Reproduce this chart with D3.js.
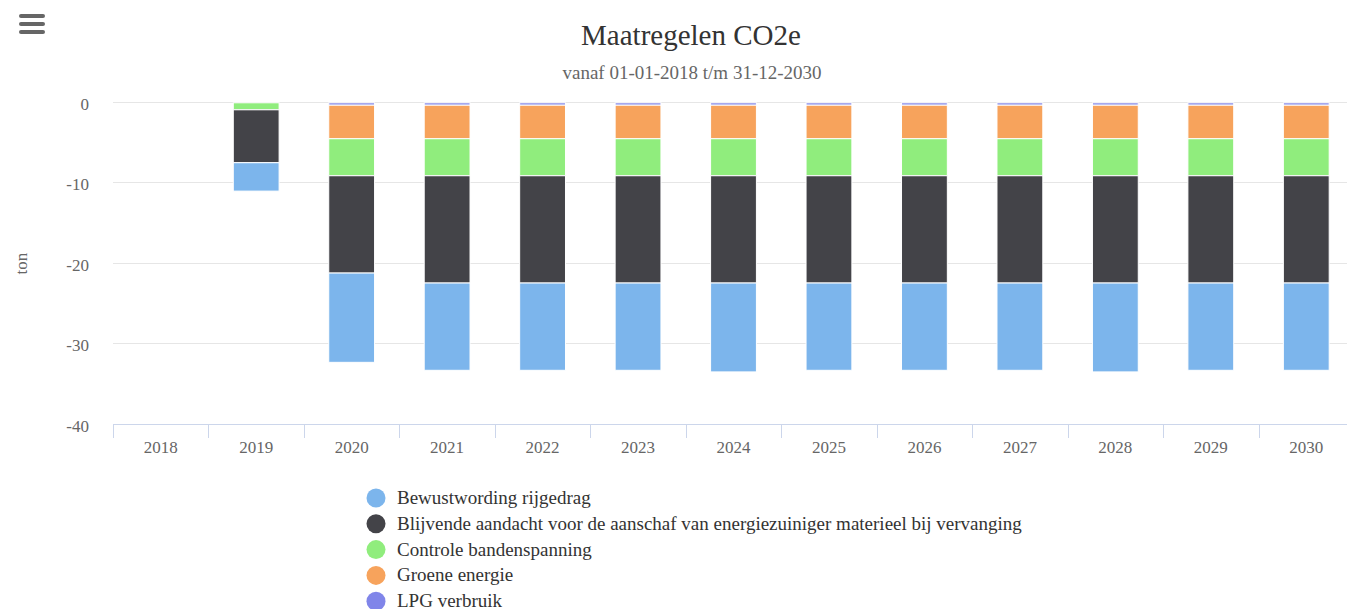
<!DOCTYPE html>
<html>
<head>
<meta charset="utf-8">
<script src="https://cdn.jsdelivr.net/npm/d3@7"></script>
<style>
  body { margin: 0; background: #fff; overflow: hidden; }
  svg { font-family: "Liberation Serif", "Times New Roman", serif; }
</style>
</head>
<body>
<svg id="chart" width="1347" height="609"></svg>
<script>
// data
var years = ["2018","2019","2020","2021","2022","2023","2024","2025","2026","2027","2028","2029","2030"];
var seriesNames = ["Bewustwording rijgedrag",
  "Blijvende aandacht voor de aanschaf van energiezuiniger materieel bij vervanging",
  "Controle bandenspanning", "Groene energie", "LPG verbruik"];
var colors = ["#7cb5ec", "#434348", "#90ed7d", "#f7a35c", "#8085e9"];
var bewustwording = [0, -3.53, -11.1, -10.85, -10.85, -10.85, -11.05, -10.85, -10.85, -10.85, -11.05, -10.85, -10.85];
var blijvende     = [0, -6.58, -12.1, -13.34, -13.34, -13.34, -13.34, -13.34, -13.34, -13.34, -13.34, -13.34, -13.34];
var controle      = [0, -0.87, -4.6, -4.6, -4.6, -4.6, -4.6, -4.6, -4.6, -4.6, -4.6, -4.6, -4.6];
var groene        = [0, 0, -4.17, -4.17, -4.17, -4.17, -4.17, -4.17, -4.17, -4.17, -4.17, -4.17, -4.17];
var lpg           = [0, 0, -0.3, -0.3, -0.3, -0.3, -0.3, -0.3, -0.3, -0.3, -0.3, -0.3, -0.3];
var yTicks = [0, -10, -20, -30, -40];

var allValues = [bewustwording, blijvende, controle, groene, lpg];

var table = years.map(function(yr, i){
  var row = {year: yr};
  seriesNames.forEach(function(n, k){ row[n] = allValues[k][i]; });
  return row;
});

var svg = d3.select("#chart");
var plotLeft = 113, plotRight = 1354, plotTop = 102.8, plotBottom = 424.5;

var x = d3.scaleBand().domain(years).range([plotLeft, plotRight]);
var y = d3.scaleLinear().domain([-40, 0]).range([plotBottom, plotTop]);

// highcharts puts the last series next to zero
var stack = d3.stack().keys(seriesNames.slice().reverse()).offset(d3.stackOffsetDiverging);
var layers = stack(table);

// title
svg.append("text").attr("x", 691).attr("y", 45).attr("text-anchor", "middle")
  .attr("font-size", 29).attr("fill", "#333").text("Maatregelen CO2e");
svg.append("text").attr("x", 692).attr("y", 79).attr("text-anchor", "middle")
  .attr("font-size", 19).attr("fill", "#666").text("vanaf 01-01-2018 t/m 31-12-2030");

// menu icon
[16, 24, 32].forEach(function(yy){
  svg.append("line").attr("x1", 21).attr("x2", 43).attr("y1", yy).attr("y2", yy)
    .attr("stroke", "#666").attr("stroke-width", 4).attr("stroke-linecap", "round");
});

// grid
svg.append("g").selectAll("line").data(yTicks.slice(0, 4)).enter().append("line")
  .attr("x1", plotLeft).attr("x2", plotRight)
  .attr("y1", function(d){ return Math.round(y(d)) - 0.5; }).attr("y2", function(d){ return Math.round(y(d)) - 0.5; })
  .attr("stroke", "#e6e6e6");

svg.append("g").selectAll("text").data(yTicks).enter().append("text")
  .attr("x", 89).attr("y", function(d){ return y(d) + 7; })
  .attr("text-anchor", "end").attr("font-size", 17).attr("fill", "#666")
  .text(function(d){ return d; });

svg.append("text").attr("transform", "translate(27," + ((plotTop + plotBottom) / 2) + ") rotate(-90)")
  .attr("text-anchor", "middle").attr("font-size", 17).attr("fill", "#666").text("ton");

// bars
var bw = x.bandwidth() * 0.48;
svg.append("g").selectAll("g").data(layers).enter().append("g")
  .attr("fill", function(d){ return colors[seriesNames.indexOf(d.key)]; })
  .selectAll("rect").data(function(d){ return d.filter(function(p){ return p[1] - p[0] !== 0; }); })
  .enter().append("rect")
  .attr("x", function(d){ return x(d.data.year) + (x.bandwidth() - bw) / 2; })
  .attr("width", bw)
  .attr("y", function(d){ return y(d[1]); })
  .attr("height", function(d){ return y(d[0]) - y(d[1]); })
  .attr("stroke", "#fff").attr("stroke-width", 1);

// x axis
var xa = svg.append("g");
xa.append("line").attr("x1", plotLeft).attr("x2", plotRight)
  .attr("y1", 424.5).attr("y2", 424.5).attr("stroke", "#ccd6eb");
xa.selectAll("line.t").data(years).enter().append("line").attr("class", "t")
  .attr("x1", function(d){ return Math.round(x(d)) + 0.5; })
  .attr("x2", function(d){ return Math.round(x(d)) + 0.5; })
  .attr("y1", 424).attr("y2", 438).attr("stroke", "#ccd6eb");
xa.selectAll("text").data(years).enter().append("text")
  .attr("x", function(d){ return x(d) + x.bandwidth() / 2; }).attr("y", 453)
  .attr("text-anchor", "middle").attr("font-size", 17).attr("fill", "#666")
  .text(function(d){ return d; });

// legend
var lg = svg.append("g").selectAll("g").data(seriesNames).enter().append("g")
  .attr("transform", function(d, i){ return "translate(376," + (498 + i * 25.8) + ")"; });
lg.append("circle").attr("r", 9.5).attr("fill", function(d, i){ return colors[i]; });
lg.append("text").attr("x", 21).attr("y", 6).attr("font-size", 19).attr("fill", "#333")
  .text(function(d){ return d; });
</script>
</body>
</html>
